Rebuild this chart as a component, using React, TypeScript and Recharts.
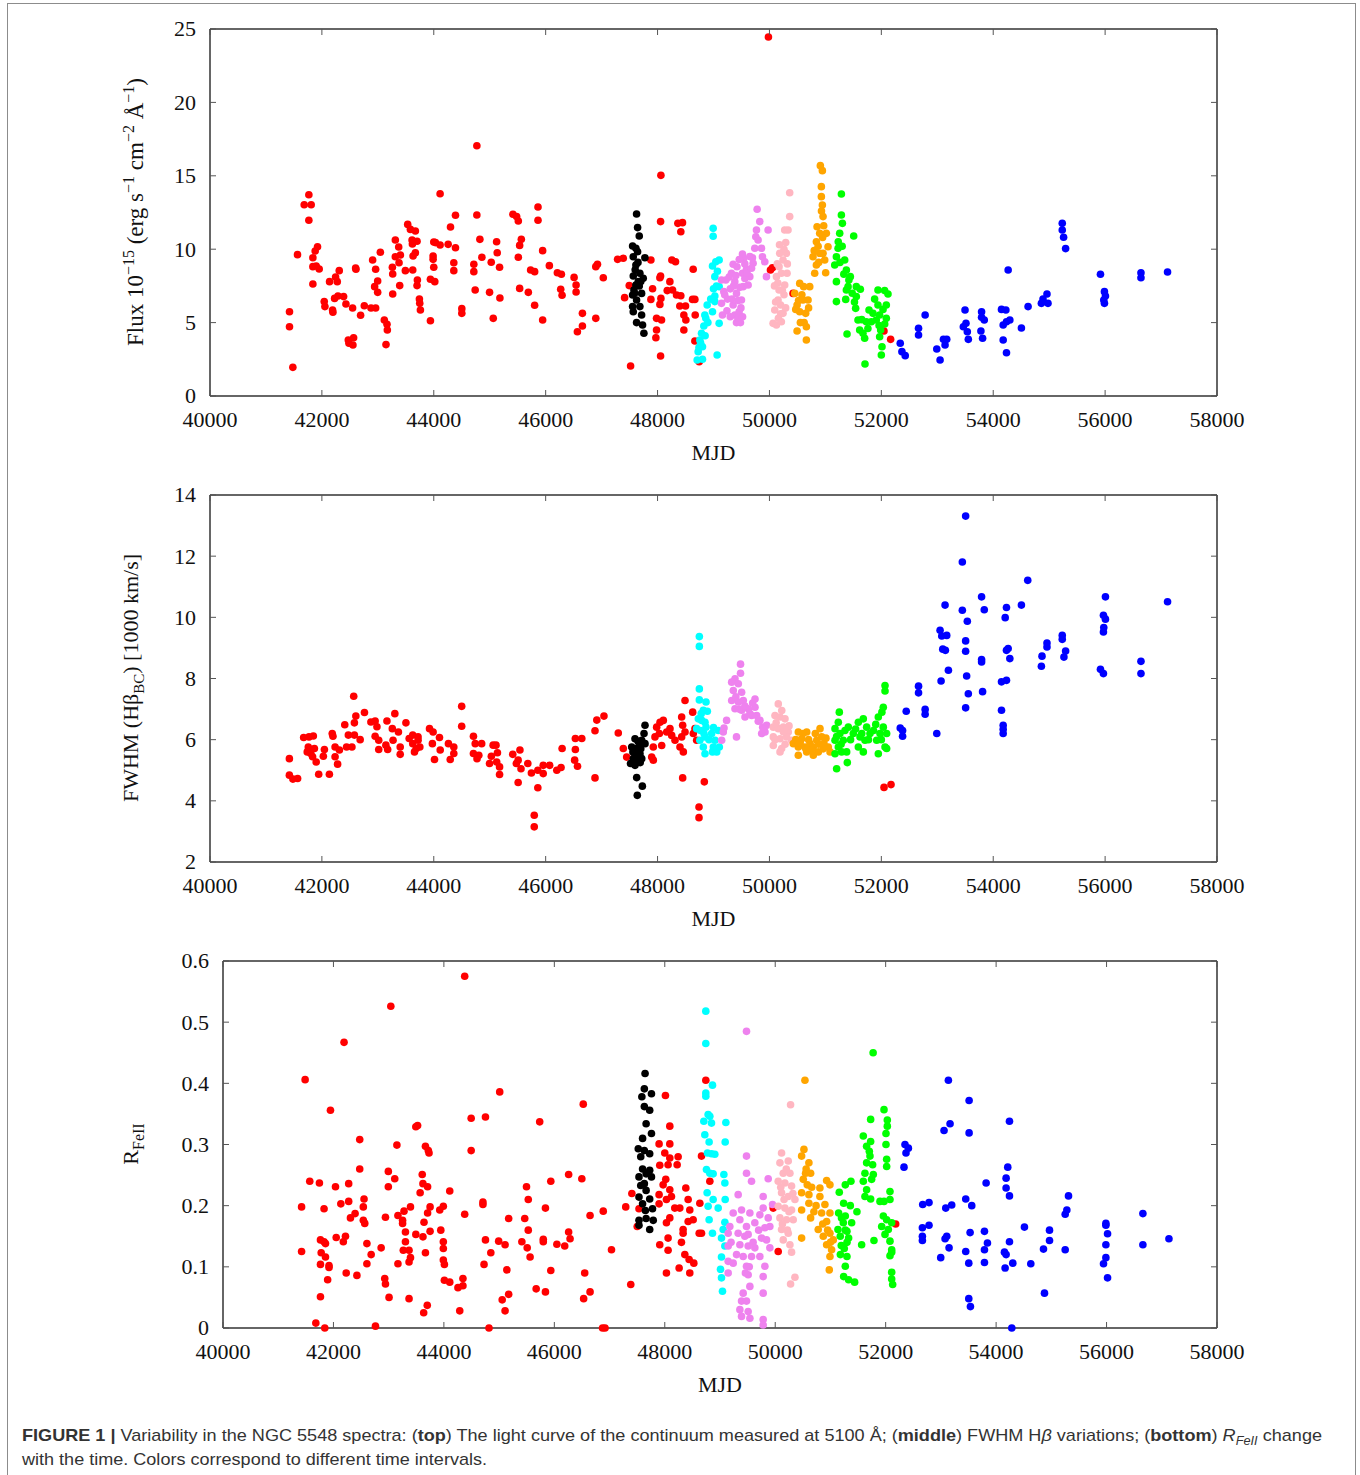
import { ScatterChart, Scatter, XAxis, YAxis, Label, ReferenceLine } from 'recharts'

type Pt = [number, number]

// [MJD, value] pairs
const mjdTicks = [40000, 42000, 44000, 46000, 48000, 50000, 52000, 54000, 56000, 58000]
const fluxTicks = [0, 5, 10, 15, 20, 25]
const fwhmTicks = [2, 4, 6, 8, 10, 12, 14]
const rfeTicks = [0, 0.1, 0.2, 0.3, 0.4, 0.5, 0.6]

// ---------- top: continuum flux ----------
const fluxRed: Pt[] = [
  [41421, 5.74], [41421, 4.72], [41481, 1.95], [41564, 9.63], [41684, 13.03], [41767, 13.71], [41809, 13.03], [41767, 11.97],
  [41839, 9.42], [41880, 9.88], [41922, 10.17], [41839, 8.81], [41899, 8.86], [41952, 8.65], [41839, 7.63], [42042, 6.43],
  [42054, 6.09], [42137, 7.79], [42191, 5.86], [42197, 5.7], [42245, 8.11], [42275, 7.79], [42310, 8.54], [42227, 6.65],
  [42287, 6.81], [42388, 6.77], [42430, 6.27], [42472, 3.81], [42484, 3.59], [42567, 3.97], [42555, 3.47], [42549, 5.99],
  [42603, 8.72], [42609, 8.63], [42692, 5.5], [42758, 6.15], [42878, 5.99], [42961, 5.99], [42907, 9.26], [42961, 8.63],
  [42997, 7.83], [42943, 7.45], [42997, 7.06], [43045, 9.79], [43116, 5.18], [43164, 4.88], [43170, 4.5], [43146, 3.5],
  [43266, 6.95], [43266, 8.31], [43260, 8.77], [43313, 10.63], [43373, 10.15], [43313, 9.49], [43403, 9.6], [43379, 9.08],
  [43391, 7.52], [43492, 8.54], [43534, 11.69], [43582, 11.35], [43671, 11.24], [43612, 10.63], [43618, 10.35], [43701, 10.54],
  [43630, 9.54], [43671, 9.76], [43707, 7.9], [43701, 7.52], [43743, 6.61], [43749, 6.31], [43761, 5.86], [43624, 8.58],
  [43940, 7.95], [43940, 5.13], [44018, 7.79], [43988, 9.54], [43988, 9.31], [44000, 8.77], [44000, 10.49], [44030, 10.45],
  [44113, 13.78], [44113, 10.29], [44257, 10.33], [44299, 11.51], [44388, 12.31], [44388, 10.1], [44358, 9.08], [44358, 8.54],
  [44501, 5.95], [44501, 5.63], [44770, 17.05], [44770, 12.33], [44716, 8.97], [44716, 8.47], [44740, 7.22], [44824, 10.67],
  [44860, 9.45], [45027, 9.11], [44997, 7.06], [45063, 5.29], [45123, 10.51], [45134, 9.76], [45176, 8.77], [45182, 6.68],
  [45415, 12.38], [45481, 12.22], [45511, 11.92], [45565, 10.67], [45535, 10.26], [45511, 9.45], [45535, 7.33], [45690, 7.06],
  [45731, 8.58], [45803, 8.47], [45803, 6.18], [45863, 12.87], [45863, 11.97], [45946, 9.9], [45946, 5.18], [46066, 8.88],
  [46209, 8.4], [46281, 8.29], [46269, 7.27], [46293, 6.86], [46508, 8.08], [46544, 7.56], [46544, 7.08], [46567, 4.38],
  [46657, 5.63], [46657, 4.77], [46896, 8.81], [46926, 8.97], [46896, 5.29], [47030, 8.06], [47286, 9.31], [47387, 9.38],
  [47411, 6.7], [47518, 2.04], [47494, 7.52],
  [48060, 15.03], [48054, 11.88], [47881, 9.26], [48054, 8.17], [48042, 8.06], [47911, 7.31], [47881, 6.58], [48060, 6.65],
  [48042, 6.24], [47982, 5.29], [48071, 5.18], [47982, 4.5], [47970, 3.97], [48054, 2.72], [48173, 7.18], [48220, 7.79],
  [48256, 9.26], [48321, 9.15], [48363, 11.76], [48446, 11.81], [48416, 11.19], [48268, 7.22], [48339, 6.88], [48416, 6.83],
  [48398, 6.13], [48500, 6.13], [48470, 5.52], [48506, 5.18], [48470, 4.5], [48637, 8.63], [48625, 6.58], [48667, 6.58],
  [48673, 5.52], [48667, 3.75], [48744, 2.34], [49982, 24.46], [50018, 8.58], [50053, 8.74], [50422, 6.99], [52047, 4.43],
  [52166, 3.86],
]
const fluxBlack: Pt[] = [
  [47625, 12.4], [47643, 11.47], [47673, 10.9], [47554, 10.22], [47613, 10.06], [47643, 9.83], [47566, 9.49], [47774, 9.42],
  [47613, 8.92], [47684, 8.36], [47566, 8.17], [47744, 8.02], [47655, 7.79], [47578, 7.22], [47715, 6.99], [47625, 6.54],
  [47554, 6.09], [47684, 6.09], [47566, 5.74], [47715, 5.52], [47625, 5.0], [47732, 4.84], [47756, 4.27], [47613, 7.56],
  [47673, 7.49], [47554, 6.88], [47600, 8.6], [47650, 9.1], [47700, 7.8], [47590, 7.0],
]
const fluxCyan: Pt[] = [
  [48708, 2.45], [48803, 2.5], [48726, 3.02], [48803, 3.36], [48756, 3.81], [48786, 4.27], [48827, 4.77], [48863, 5.29],
  [48845, 5.52], [48887, 6.2], [48982, 5.74], [49024, 6.43], [49024, 6.81], [49053, 7.49], [49024, 8.13], [48982, 8.86],
  [49041, 9.15], [49101, 9.26], [48994, 10.88], [48994, 11.42], [49101, 4.95], [49065, 2.79], [49101, 7.45], [48740, 3.3],
  [48770, 3.6], [48850, 4.1], [48900, 5.0], [48950, 6.6], [49000, 7.3], [49070, 8.5],
]
const fluxViolet: Pt[] = [
  [49143, 7.9], [49184, 7.11], [49143, 6.31], [49160, 5.52], [49220, 7.9], [49321, 8.36], [49351, 8.97], [49381, 7.79],
  [49411, 6.99], [49351, 6.2], [49381, 5.52], [49411, 5.0], [49482, 5.0], [49458, 5.74], [49500, 6.54], [49530, 7.45],
  [49518, 8.36], [49542, 9.38], [49518, 9.67], [49589, 8.63], [49649, 8.13], [49619, 7.56], [49708, 9.04], [49738, 10.06],
  [49768, 11.31], [49827, 11.88], [49780, 12.72], [49797, 10.63], [49857, 10.06], [49875, 9.49], [49917, 9.15], [49946, 8.13],
  [49976, 11.31], [49756, 10.85], [49696, 9.42], [49440, 6.5], [49470, 7.4], [49400, 8.2], [49560, 8.0], [49300, 7.3],
  [49250, 6.6], [49200, 6.9], [49280, 8.1], [49330, 6.6], [49360, 7.5], [49420, 8.8], [49460, 9.3], [49490, 6.0],
  [49560, 9.0], [49600, 8.4], [49650, 9.5], [49680, 8.7], [49240, 5.8], [49300, 5.4], [49440, 5.3], [49520, 5.4],
]
const fluxPink: Pt[] = [
  [50065, 4.95], [50125, 4.84], [50095, 5.86], [50154, 6.54], [50172, 7.22], [50125, 8.13], [50172, 8.81], [50184, 9.72],
  [50243, 9.26], [50213, 8.36], [50273, 7.56], [50315, 8.36], [50303, 9.72], [50291, 10.45], [50332, 11.31], [50273, 11.31],
  [50362, 12.22], [50362, 13.85], [50243, 5.63], [50213, 5.06], [50150, 7.7], [50200, 6.2], [50260, 6.9], [50110, 6.4],
  [50140, 9.0], [50180, 10.3], [50230, 7.2], [50260, 10.0], [50290, 6.0], [50320, 9.0], [50200, 5.6], [50090, 7.5],
  [50160, 5.3],
]
const fluxOrange: Pt[] = [
  [50452, 6.99], [50541, 7.67], [50612, 7.45], [50720, 7.45], [50494, 6.2], [50600, 6.54], [50690, 6.54], [50541, 5.74],
  [50648, 5.63], [50553, 5.0], [50660, 4.72], [50494, 4.43], [50660, 3.81], [50779, 9.49], [50839, 8.92], [50809, 8.36],
  [50898, 9.72], [50839, 10.51], [50898, 11.08], [50851, 11.53], [50958, 12.22], [50946, 13.01], [50928, 13.58], [50928, 14.26],
  [50946, 15.35], [50910, 15.69], [51017, 11.08], [51047, 10.17], [50988, 9.26], [51005, 8.4], [50958, 9.72], [50470, 5.9],
  [50520, 6.5], [50580, 6.9], [50620, 5.0], [50700, 6.0], [50800, 9.9], [50870, 10.2], [50930, 12.6], [50970, 11.6],
  [50880, 9.1], [50950, 10.8],
]
const fluxGreen: Pt[] = [
  [51286, 13.76], [51286, 12.33], [51304, 11.76], [51256, 11.08], [51227, 10.06], [51197, 9.49], [51167, 8.92], [51197, 7.79],
  [51345, 9.26], [51375, 8.58], [51446, 8.13], [51506, 10.9], [51375, 7.22], [51197, 6.43], [51363, 6.58], [51405, 7.45],
  [51553, 7.45], [51625, 7.27], [51553, 6.77], [51541, 5.97], [51583, 5.18], [51613, 4.5], [51702, 3.93], [51387, 4.22],
  [51708, 2.18], [51732, 5.06], [51780, 5.86], [51851, 5.63], [51940, 7.22], [52059, 7.18], [52119, 6.95], [51940, 6.2],
  [52089, 6.2], [51970, 5.52], [52089, 5.29], [51988, 4.5], [51970, 4.04], [52012, 3.36], [52000, 2.79], [51910, 5.18],
  [51821, 5.06], [51672, 4.27], [51230, 10.5], [51260, 9.1], [51300, 10.2], [51330, 8.3], [51420, 7.9], [51480, 7.0],
  [51520, 6.4], [51650, 5.2], [51760, 4.6], [51880, 6.6], [51960, 4.8], [52030, 5.9], [52060, 4.9],
]
const fluxBlue: Pt[] = [
  [52338, 3.59], [52368, 3.02], [52427, 2.75], [52665, 4.61], [52665, 4.16], [52783, 5.52], [52991, 3.2], [53050, 2.45],
  [53110, 3.86], [53169, 3.86], [53139, 3.47], [53496, 5.86], [53466, 4.72], [53513, 4.95], [53537, 4.38], [53555, 3.86],
  [53792, 5.74], [53792, 5.36], [53840, 5.18], [53780, 4.43], [53810, 3.93], [54148, 5.9], [54226, 5.86], [54178, 4.84],
  [54237, 5.06], [54297, 5.18], [54178, 3.81], [54237, 2.95], [54267, 8.58], [54504, 4.63], [54623, 6.09], [54861, 6.31],
  [54890, 6.61], [54961, 6.95], [54979, 6.31], [55234, 11.76], [55234, 11.31], [55258, 10.81], [55294, 10.04], [55917, 8.29],
  [55988, 7.11], [56006, 6.81], [55976, 6.54], [55988, 6.31], [56641, 8.4], [56641, 8.06], [57116, 8.45],
]

// ---------- middle: FWHM Hbeta ----------
const fwhmRed: Pt[] = [
  [41419, 5.38], [41419, 4.84], [41482, 4.71], [41566, 4.73], [41674, 6.07], [41770, 6.09], [41847, 6.12], [41757, 5.76],
  [41738, 5.6], [41802, 5.55], [41866, 5.71], [41834, 5.44], [41898, 5.27], [41943, 4.87], [42045, 5.68], [42026, 5.46],
  [42134, 4.87], [42185, 6.2], [42198, 6.11], [42236, 5.76], [42236, 5.44], [42281, 5.2], [42313, 5.66], [42409, 6.49],
  [42473, 6.15], [42441, 5.76], [42537, 5.76], [42569, 7.42], [42581, 6.15], [42607, 6.77], [42581, 6.55], [42684, 6.0],
  [42761, 6.89], [42876, 6.58], [42952, 6.61], [42984, 6.42], [42952, 6.11], [43016, 5.98], [43016, 5.68], [43144, 5.82],
  [43176, 5.68], [43163, 6.61], [43259, 6.36], [43304, 6.85], [43272, 5.98], [43368, 6.25], [43400, 5.76], [43400, 5.52],
  [43502, 6.55], [43560, 6.04], [43624, 6.15], [43624, 5.87], [43655, 5.6], [43719, 6.09], [43751, 5.76], [43687, 5.71],
  [43719, 5.98], [43924, 6.36], [43988, 6.25], [43975, 5.87], [44013, 5.35], [44102, 6.07], [44115, 5.66], [44262, 5.87],
  [44294, 5.35], [44358, 5.76], [44358, 5.55], [44499, 7.09], [44499, 6.44], [44709, 6.11], [44709, 5.55], [44741, 5.87],
  [44773, 5.38], [44805, 5.49], [44856, 5.87], [44997, 5.22], [45029, 5.46], [45061, 5.82], [45112, 5.82], [45138, 5.57],
  [45125, 5.27], [45176, 5.11], [45176, 4.86], [45412, 5.52], [45476, 5.22], [45508, 5.33], [45540, 5.66], [45559, 5.05],
  [45508, 4.6], [45681, 5.22], [45745, 4.91], [45796, 3.53], [45796, 3.15], [45860, 5.0], [45860, 4.43], [45956, 5.16],
  [45956, 4.89], [46071, 5.16], [46199, 5.0], [46275, 5.09], [46294, 5.71], [46518, 5.33], [46531, 6.04], [46531, 5.68],
  [46569, 5.13], [46646, 6.04], [46882, 6.29], [46914, 6.64], [47042, 6.77], [46882, 4.75], [47298, 6.22], [47388, 5.71],
  [47448, 5.43], [47895, 5.43], [47924, 5.76], [47954, 6.09], [47984, 6.41], [48044, 6.57], [48103, 6.63], [48032, 6.2],
  [48074, 5.81], [48163, 6.25], [48222, 6.36], [48253, 6.14], [48312, 5.98], [48401, 5.76], [48431, 6.09], [48449, 6.47],
  [48431, 6.74], [48491, 7.28], [48491, 6.25], [48628, 6.9], [48669, 6.36], [48639, 6.2], [48699, 5.98], [48461, 5.6],
  [47924, 5.33], [48741, 3.8], [48741, 3.45], [48836, 4.62], [48449, 4.75], [52048, 4.44], [52173, 4.53],
]
const fwhmBlack: Pt[] = [
  [47776, 6.47], [47758, 6.2], [47717, 5.98], [47597, 6.03], [47538, 5.76], [47627, 5.71], [47686, 5.54], [47567, 5.38],
  [47656, 5.27], [47517, 5.22], [47597, 5.16], [47717, 5.38], [47627, 4.76], [47728, 4.48], [47638, 4.18], [47776, 5.87],
  [47674, 5.87], [47600, 5.55], [47650, 5.95], [47700, 5.7], [47560, 5.6], [47640, 5.45], [47690, 5.25],
]
const fwhmCyan: Pt[] = [
  [48747, 9.37], [48747, 9.05], [48747, 7.66], [48747, 7.3], [48866, 7.23], [48818, 6.96], [48890, 6.93], [48729, 6.68],
  [48789, 6.63], [48848, 6.57], [48699, 6.36], [48768, 6.3], [48866, 6.41], [48756, 5.98], [48848, 6.09], [48818, 5.76],
  [48848, 5.54], [48967, 6.2], [49027, 5.98], [48997, 5.76], [49086, 6.3], [49057, 5.6], [49104, 5.76], [48982, 5.6],
  [48780, 6.85], [48830, 6.2], [48920, 6.0], [49000, 6.4],
]
const fwhmViolet: Pt[] = [
  [49175, 6.25], [49146, 5.98], [49234, 6.63], [49188, 6.38], [49411, 6.09], [49483, 8.47], [49483, 8.17], [49384, 7.99],
  [49325, 7.88], [49444, 7.83], [49354, 7.61], [49503, 7.55], [49325, 7.28], [49444, 7.23], [49533, 7.28], [49384, 7.01],
  [49503, 6.96], [49563, 6.74], [49622, 7.01], [49742, 7.33], [49742, 7.06], [49772, 6.79], [49831, 6.63], [49879, 6.41],
  [49921, 6.25], [49951, 6.47], [49861, 6.2], [49682, 6.79], [49400, 7.4], [49460, 7.0], [49560, 7.1], [49650, 6.85],
  [49700, 7.2], [49800, 6.6], [49900, 6.35],
]
const fwhmPink: Pt[] = [
  [50158, 7.17], [50099, 6.79], [50189, 6.74], [50278, 6.68], [50069, 6.41], [50158, 6.36], [50248, 6.41], [50337, 6.25],
  [50069, 6.09], [50189, 6.03], [50308, 6.09], [50398, 5.98], [50069, 5.81], [50218, 5.71], [50189, 5.6], [50120, 6.55],
  [50250, 6.25], [50280, 5.85], [50350, 6.45], [50100, 6.0], [50220, 6.95],
]
const fwhmOrange: Pt[] = [
  [50516, 6.25], [50576, 6.03], [50666, 6.25], [50516, 5.76], [50636, 5.76], [50725, 5.87], [50516, 5.49], [50666, 5.6],
  [50784, 5.76], [50904, 6.36], [50934, 6.09], [50845, 5.98], [50975, 5.87], [50874, 5.6], [51052, 5.76], [51083, 5.6],
  [50784, 5.49], [50427, 5.87], [50470, 6.0], [50550, 5.9], [50600, 6.2], [50700, 6.0], [50750, 5.65], [50820, 6.2],
  [50880, 5.85], [50960, 5.7], [51010, 6.05], [50650, 5.7],
]
const fwhmGreen: Pt[] = [
  [51249, 6.9], [51231, 6.57], [51172, 6.36], [51261, 6.2], [51172, 5.98], [51320, 5.98], [51231, 5.76], [51172, 5.54],
  [51290, 5.6], [51380, 5.6], [51201, 5.05], [51392, 5.25], [51410, 6.41], [51499, 6.2], [51589, 6.57], [51678, 6.68],
  [51738, 6.41], [51619, 6.09], [51708, 5.98], [51797, 6.2], [51589, 5.76], [51678, 5.6], [51946, 6.74], [52035, 7.06],
  [52066, 7.77], [52066, 7.59], [52035, 6.41], [51976, 6.2], [52095, 6.2], [51917, 5.98], [52066, 5.76], [51946, 5.54],
  [52095, 5.71], [51200, 6.1], [51280, 5.85], [51350, 6.3], [51450, 6.0], [51540, 6.35], [51650, 6.2], [51770, 6.0],
  [51860, 6.3], [51900, 6.5], [52000, 6.0], [52010, 6.9],
]
const fwhmBlue: Pt[] = [
  [53507, 13.31], [53448, 11.81], [54617, 11.21], [53139, 10.4], [53448, 10.23], [53537, 9.87], [53792, 10.67], [53840, 10.25],
  [54237, 10.32], [54214, 9.99], [54504, 10.4], [53050, 9.58], [53080, 9.39], [53169, 9.41], [53507, 9.23], [53098, 8.96],
  [53145, 8.92], [53507, 8.89], [53199, 8.27], [53068, 7.92], [53525, 8.08], [53555, 7.5], [53507, 7.04], [53792, 8.62],
  [53792, 8.54], [53810, 7.57], [54148, 7.89], [54237, 7.94], [54148, 6.96], [54178, 6.47], [54178, 6.34], [54178, 6.2],
  [54237, 8.92], [54267, 8.98], [54297, 8.65], [54872, 8.73], [54861, 8.4], [54961, 9.16], [54961, 9.03], [55234, 9.41],
  [55234, 9.28], [55294, 8.9], [55264, 8.7], [56006, 10.67], [55970, 10.07], [56006, 9.94], [55976, 9.67], [55970, 9.52],
  [55917, 8.3], [55970, 8.16], [56641, 8.56], [56641, 8.16], [57116, 10.51], [52338, 6.38], [52380, 6.3], [52380, 6.11],
  [52445, 6.93], [52665, 7.75], [52665, 7.53], [52783, 6.99], [52783, 6.83], [52991, 6.2],
]

// ---------- bottom: R_FeII ----------
const rfeRed: Pt[] = [
  [41423, 0.198], [41423, 0.125], [41487, 0.406], [41571, 0.24], [41681, 0.008], [41746, 0.237], [41765, 0.144], [41778, 0.123],
  [41765, 0.104], [41765, 0.051], [41830, 0.195], [41830, 0.141], [41856, 0.138], [41856, 0.116], [41843, 0.0], [41920, 0.102],
  [41920, 0.099], [41895, 0.079], [41946, 0.356], [42037, 0.231], [42050, 0.148], [42134, 0.203], [42192, 0.467], [42179, 0.141],
  [42218, 0.15], [42231, 0.09], [42276, 0.207], [42276, 0.236], [42308, 0.18], [42392, 0.187], [42425, 0.086], [42476, 0.308],
  [42476, 0.26], [42554, 0.211], [42541, 0.198], [42541, 0.176], [42567, 0.171], [42606, 0.138], [42606, 0.105], [42683, 0.12],
  [42761, 0.003], [42864, 0.131], [42929, 0.081], [42942, 0.072], [42942, 0.181], [42994, 0.256], [42994, 0.231], [43039, 0.526],
  [43007, 0.05], [43110, 0.244], [43149, 0.299], [43168, 0.184], [43168, 0.105], [43252, 0.176], [43252, 0.171], [43278, 0.191],
  [43304, 0.157], [43304, 0.141], [43265, 0.127], [43369, 0.127], [43369, 0.108], [43395, 0.115], [43369, 0.048], [43395, 0.198],
  [43492, 0.329], [43524, 0.331], [43492, 0.153], [43570, 0.221], [43608, 0.251], [43621, 0.236], [43634, 0.025], [43621, 0.149],
  [43640, 0.173], [43666, 0.297], [43705, 0.231], [43718, 0.29], [43731, 0.286], [43666, 0.123], [43705, 0.188], [43750, 0.198],
  [43750, 0.158], [43699, 0.037], [43925, 0.193], [43944, 0.16], [43990, 0.199], [43990, 0.141], [43990, 0.13], [43990, 0.111],
  [44009, 0.104], [44009, 0.078], [44106, 0.075], [44106, 0.224], [44255, 0.066], [44287, 0.028], [44345, 0.081], [44345, 0.069],
  [44377, 0.575], [44377, 0.186], [44494, 0.343], [44494, 0.29], [44707, 0.206], [44707, 0.202], [44727, 0.104], [44753, 0.345],
  [44753, 0.144], [44817, 0.0], [44850, 0.123], [44992, 0.142], [45011, 0.386], [45056, 0.046], [45108, 0.136], [45108, 0.028],
  [45140, 0.095], [45173, 0.179], [45173, 0.055], [45412, 0.141], [45464, 0.179], [45496, 0.231], [45509, 0.131], [45528, 0.21],
  [45528, 0.16], [45561, 0.116], [45671, 0.064], [45735, 0.337], [45800, 0.145], [45800, 0.141], [45839, 0.196], [45839, 0.059],
  [45936, 0.24], [45936, 0.094], [46046, 0.137], [46188, 0.134], [46259, 0.251], [46259, 0.157], [46285, 0.146], [46498, 0.244],
  [46524, 0.366], [46531, 0.048], [46550, 0.09], [46647, 0.184], [46647, 0.059], [46873, 0.0], [46918, 0.0], [46886, 0.191],
  [47035, 0.128], [47293, 0.198], [47384, 0.071], [47404, 0.22], [47501, 0.166], [47533, 0.195],
  [48012, 0.38], [48091, 0.33], [47897, 0.301], [48091, 0.301], [48000, 0.286], [48091, 0.278], [48242, 0.28], [48224, 0.267],
  [48060, 0.267], [47909, 0.266], [48018, 0.243], [47970, 0.234], [48091, 0.226], [48121, 0.215], [47897, 0.218], [48030, 0.21],
  [48181, 0.196], [48272, 0.196], [48091, 0.18], [48030, 0.172], [47897, 0.203], [48381, 0.229], [48423, 0.21], [48453, 0.193],
  [48423, 0.174], [48332, 0.161], [48332, 0.155], [48514, 0.177], [48635, 0.204], [48665, 0.155], [48623, 0.155], [48060, 0.147],
  [47909, 0.136], [48060, 0.127], [48302, 0.14], [48363, 0.12], [48441, 0.112], [48526, 0.106], [48260, 0.098], [48030, 0.09],
  [48453, 0.09], [48743, 0.405], [48665, 0.281], [48816, 0.24], [49964, 0.196], [50054, 0.125], [52181, 0.17],
]
const rfeBlack: Pt[] = [
  [47643, 0.416], [47630, 0.391], [47585, 0.378], [47759, 0.383], [47630, 0.362], [47727, 0.356], [47662, 0.334], [47759, 0.318],
  [47598, 0.31], [47520, 0.293], [47630, 0.29], [47727, 0.285], [47565, 0.28], [47598, 0.26], [47727, 0.258], [47533, 0.247],
  [47662, 0.252], [47759, 0.247], [47565, 0.233], [47662, 0.225], [47533, 0.214], [47727, 0.211], [47598, 0.203], [47649, 0.192],
  [47778, 0.195], [47533, 0.176], [47662, 0.179], [47791, 0.176], [47533, 0.168], [47727, 0.161], [47630, 0.236],
]
const rfeCyan: Pt[] = [
  [48743, 0.518], [48743, 0.465], [48743, 0.384], [48864, 0.397], [48743, 0.379], [48785, 0.349], [48816, 0.346], [48707, 0.338],
  [48846, 0.335], [49106, 0.336], [48725, 0.316], [48803, 0.304], [49094, 0.304], [48773, 0.286], [48846, 0.285], [48906, 0.284],
  [48755, 0.259], [48816, 0.253], [48876, 0.252], [49070, 0.251], [49088, 0.237], [48767, 0.221], [48876, 0.21], [48785, 0.199],
  [48967, 0.196], [49094, 0.21], [48803, 0.177], [49088, 0.173], [48864, 0.155], [49057, 0.161], [49027, 0.147], [49088, 0.134],
  [49027, 0.116], [49009, 0.096], [49027, 0.082], [49045, 0.06],
]
const rfeViolet: Pt[] = [
  [49480, 0.485], [49480, 0.281], [49480, 0.253], [49571, 0.24], [49873, 0.244], [49329, 0.218], [49782, 0.215], [49951, 0.202],
  [49782, 0.196], [49390, 0.193], [49239, 0.188], [49541, 0.188], [49722, 0.185], [49873, 0.18], [49360, 0.177], [49178, 0.166],
  [49480, 0.166], [49631, 0.172], [49813, 0.164], [49903, 0.166], [49148, 0.155], [49329, 0.155], [49510, 0.153], [49752, 0.147],
  [49843, 0.144], [49148, 0.134], [49360, 0.136], [49510, 0.134], [49631, 0.131], [49903, 0.131], [49148, 0.109], [49420, 0.117],
  [49571, 0.117], [49722, 0.117], [49239, 0.106], [49480, 0.101], [49813, 0.101], [49148, 0.09], [49510, 0.087], [49782, 0.084],
  [49541, 0.068], [49782, 0.057], [49420, 0.057], [49390, 0.044], [49480, 0.044], [49360, 0.03], [49510, 0.027], [49390, 0.019],
  [49541, 0.016], [49782, 0.014], [49782, 0.005], [49200, 0.14], [49300, 0.12], [49450, 0.15], [49600, 0.14], [49700, 0.16],
  [49460, 0.09], [49530, 0.1],
]
const rfePink: Pt[] = [
  [50278, 0.365], [50115, 0.286], [50236, 0.273], [50085, 0.27], [50145, 0.253], [50266, 0.253], [50054, 0.24], [50175, 0.237],
  [50296, 0.232], [50115, 0.221], [50236, 0.215], [50357, 0.21], [50054, 0.199], [50175, 0.196], [50296, 0.193], [50085, 0.18],
  [50205, 0.177], [50326, 0.177], [50115, 0.161], [50236, 0.155], [50145, 0.144], [50266, 0.136], [50296, 0.124], [50357, 0.083],
  [50278, 0.072], [50100, 0.23], [50160, 0.21], [50200, 0.26], [50250, 0.19], [50320, 0.22], [50130, 0.17], [50220, 0.16],
]
const rfeOrange: Pt[] = [
  [50538, 0.405], [50520, 0.292], [50478, 0.281], [50610, 0.27], [50550, 0.253], [50641, 0.253], [50508, 0.243], [50931, 0.241],
  [50580, 0.234], [50991, 0.234], [50809, 0.229], [50478, 0.221], [50610, 0.218], [50809, 0.215], [50478, 0.193], [50610, 0.204],
  [50900, 0.202], [50840, 0.188], [50991, 0.188], [50931, 0.174], [50779, 0.161], [50991, 0.155], [50870, 0.15], [51051, 0.144],
  [50931, 0.136], [51021, 0.128], [50991, 0.117], [50979, 0.095], [50478, 0.147], [50641, 0.18], [50560, 0.26], [50660, 0.23],
  [50740, 0.2], [50860, 0.17], [50950, 0.16], [51000, 0.14], [50700, 0.19],
]
const rfeGreen: Pt[] = [
  [51773, 0.45], [51970, 0.357], [51728, 0.341], [52030, 0.34], [52030, 0.33], [51595, 0.314], [52006, 0.318], [51728, 0.305],
  [52006, 0.3], [51655, 0.297], [51704, 0.289], [51716, 0.281], [51655, 0.27], [51764, 0.267], [52018, 0.276], [52018, 0.264],
  [51625, 0.253], [51776, 0.251], [51595, 0.24], [51746, 0.243], [51371, 0.24], [51269, 0.234], [51160, 0.222], [51655, 0.226],
  [51625, 0.215], [51728, 0.211], [51897, 0.207], [51970, 0.207], [52078, 0.223], [52078, 0.21], [51239, 0.204], [51360, 0.2],
  [51480, 0.19], [51148, 0.188], [51269, 0.183], [51958, 0.183], [52018, 0.177], [51233, 0.172], [51384, 0.172], [52109, 0.172],
  [51928, 0.166], [51136, 0.161], [51299, 0.158], [52048, 0.161], [51988, 0.153], [52078, 0.142], [51178, 0.15], [51329, 0.147],
  [51565, 0.136], [51788, 0.143], [51196, 0.135], [51299, 0.117], [51269, 0.101], [52109, 0.128], [52109, 0.124], [52078, 0.118],
  [51239, 0.084], [51329, 0.079], [51438, 0.075], [52109, 0.091], [52109, 0.08], [52127, 0.071], [51200, 0.18], [51270, 0.16],
  [51300, 0.14], [51180, 0.12], [51250, 0.13],
]
const rfeBlue: Pt[] = [
  [52350, 0.3], [52411, 0.294], [52368, 0.286], [52332, 0.263], [53136, 0.405], [53511, 0.372], [54242, 0.338], [53166, 0.334],
  [53057, 0.323], [53511, 0.319], [54211, 0.263], [53819, 0.237], [54181, 0.245], [54181, 0.229], [54242, 0.216], [55311, 0.216],
  [53450, 0.211], [52671, 0.202], [52785, 0.205], [53196, 0.201], [53088, 0.196], [53559, 0.2], [55281, 0.193], [55251, 0.186],
  [56658, 0.187], [52665, 0.164], [52785, 0.168], [54513, 0.165], [55988, 0.171], [55988, 0.168], [54967, 0.16], [53789, 0.158],
  [53529, 0.156], [52665, 0.15], [52665, 0.143], [56018, 0.154], [53076, 0.146], [53106, 0.15], [53843, 0.139], [54242, 0.141],
  [54967, 0.143], [57130, 0.146], [53148, 0.131], [53789, 0.128], [54858, 0.129], [55251, 0.128], [55988, 0.136], [56658, 0.136],
  [53450, 0.125], [54151, 0.124], [54181, 0.12], [52997, 0.115], [55988, 0.115], [55945, 0.105], [53505, 0.106], [53789, 0.107],
  [54302, 0.106], [54628, 0.105], [54163, 0.098], [56018, 0.082], [54876, 0.057], [53505, 0.048], [53535, 0.035], [54284, 0.0],
]

const RED = '#ff0000'
const BLACK = '#000000'
const CYAN = '#00ffff'
const VIOLET = '#ee82ee'
const PINK = '#ffb6c1'
const ORANGE = '#ffa500'
const GREEN = '#00ff00'
const BLUE = '#0000ff'

const SERIF = "'Liberation Serif', 'Times New Roman', serif"
const SANS = "'Liberation Sans', Arial, sans-serif"

// panel box in chart-local pixels (same for all three panels)
const BOX_TOP = 29
const BOX_BOTTOM = 396
const BOX_RIGHT = 1217

interface Series {
  color: string
  pts: Pt[]
}

const toXY = (pts: Pt[]) => pts.map(([x, y]) => ({ x, y }))

function dot(color: string) {
  return (p: any) => <circle cx={p.cx} cy={p.cy} r={3.8} fill={color} />
}

// gnuplot-like ticks: inward on both sides of the box
function XTick(p: any) {
  return (
    <g>
      <line x1={p.x} x2={p.x} y1={BOX_BOTTOM} y2={BOX_BOTTOM - 6} stroke="#555" />
      <line x1={p.x} x2={p.x} y1={BOX_TOP} y2={BOX_TOP + 6} stroke="#555" />
      <text x={p.x} y={BOX_BOTTOM + 31} textAnchor="middle" fontFamily={SERIF} fontSize={22} fill="#111">
        {p.payload.value}
      </text>
    </g>
  )
}

function makeYTick(left: number) {
  return (p: any) => (
    <g>
      <line x1={left} x2={left + 6} y1={p.y} y2={p.y} stroke="#555" />
      <line x1={BOX_RIGHT} x2={BOX_RIGHT - 6} y1={p.y} y2={p.y} stroke="#555" />
      <text x={left - 14} y={p.y} dy="0.34em" textAnchor="end" fontFamily={SERIF} fontSize={22} fill="#111">
        {p.payload.value}
      </text>
    </g>
  )
}

interface PanelProps {
  top: number
  plotLeft: number
  domain: [number, number]
  ticks: number[]
  series: Series[]
  yLabel: () => JSX.Element
}

const axisLine = { stroke: '#333', strokeWidth: 1.5 }

function Panel({ top, plotLeft, domain, ticks, series, yLabel }: PanelProps) {
  const cx = (plotLeft + BOX_RIGHT) / 2
  return (
    <div style={{ position: 'absolute', left: 0, top }}>
      <ScatterChart width={1360} height={466} margin={{ top: BOX_TOP, right: 1360 - BOX_RIGHT, bottom: 30, left: plotLeft - 60 }}>
        <XAxis
          xAxisId="b" type="number" dataKey="x" domain={[40000, 58000]} ticks={mjdTicks} interval={0}
          height={40} tickLine={false} tick={XTick} axisLine={axisLine}
        >
          <Label
            content={() => (
              <text x={cx} y={460} textAnchor="middle" fontFamily={SERIF} fontSize={22} fill="#111">MJD</text>
            )}
          />
        </XAxis>
        <YAxis
          yAxisId="l" type="number" dataKey="y" domain={domain} ticks={ticks} interval={0}
          width={60} tickLine={false} tick={makeYTick(plotLeft)} axisLine={axisLine}
        >
          <Label content={yLabel} />
        </YAxis>
        <ReferenceLine xAxisId="b" yAxisId="l" y={domain[1]} stroke="#333" strokeWidth={1.5} />
        <ReferenceLine xAxisId="b" yAxisId="l" x={58000} stroke="#333" strokeWidth={1.5} />
        {series.map((s, i) => (
          <Scatter
            key={i}
            xAxisId="b"
            yAxisId="l"
            data={toXY(s.pts)}
            fill={s.color}
            shape={dot(s.color)}
            isAnimationActive={false}
          />
        ))}
      </ScatterChart>
    </div>
  )
}

const fluxLabel = () => (
  <text x={143} y={212} transform="rotate(-90 143 212)" textAnchor="middle" fontFamily={SERIF} fontSize={23} fill="#111">
    Flux 10<tspan dy={-9} fontSize={16}>−15</tspan>
    <tspan dy={9}> (erg s</tspan><tspan dy={-9} fontSize={16}>−1</tspan>
    <tspan dy={9}> cm</tspan><tspan dy={-9} fontSize={16}>−2</tspan>
    <tspan dy={9}> Å</tspan><tspan dy={-9} fontSize={16}>−1</tspan>
    <tspan dy={9}>)</tspan>
  </text>
)

const fwhmLabel = () => (
  <text x={138} y={212} transform="rotate(-90 138 212)" textAnchor="middle" fontFamily={SERIF} fontSize={22} fill="#111">
    FWHM (Hβ<tspan dy={6} fontSize={15}>BC</tspan><tspan dy={-6}>) [1000 km/s]</tspan>
  </text>
)

const rfeLabel = () => (
  <text x={138} y={212} transform="rotate(-90 138 212)" textAnchor="middle" fontFamily={SERIF} fontSize={22} fill="#111">
    R<tspan dy={6} fontSize={16}>FeII</tspan>
  </text>
)

export default function App() {
  return (
    <div style={{ position: 'absolute', left: 0, top: 0, width: 1360, height: 1475, overflow: 'hidden', background: '#fff' }}>
      <div
        style={{
          position: 'absolute', left: 7, top: 3, width: 1349, height: 1500,
          border: '1.5px solid #8c8c8c', boxSizing: 'border-box',
        }}
      />
      <Panel
        top={0} plotLeft={210} domain={[0, 25]} ticks={fluxTicks} yLabel={fluxLabel}
        series={[
          { color: RED, pts: fluxRed }, { color: BLACK, pts: fluxBlack }, { color: CYAN, pts: fluxCyan },
          { color: VIOLET, pts: fluxViolet }, { color: PINK, pts: fluxPink }, { color: ORANGE, pts: fluxOrange },
          { color: GREEN, pts: fluxGreen }, { color: BLUE, pts: fluxBlue },
        ]}
      />
      <Panel
        top={466} plotLeft={210} domain={[2, 14]} ticks={fwhmTicks} yLabel={fwhmLabel}
        series={[
          { color: RED, pts: fwhmRed }, { color: BLACK, pts: fwhmBlack }, { color: CYAN, pts: fwhmCyan },
          { color: VIOLET, pts: fwhmViolet }, { color: PINK, pts: fwhmPink }, { color: ORANGE, pts: fwhmOrange },
          { color: GREEN, pts: fwhmGreen }, { color: BLUE, pts: fwhmBlue },
        ]}
      />
      <Panel
        top={932} plotLeft={223} domain={[0, 0.6]} ticks={rfeTicks} yLabel={rfeLabel}
        series={[
          { color: RED, pts: rfeRed }, { color: BLACK, pts: rfeBlack }, { color: CYAN, pts: rfeCyan },
          { color: VIOLET, pts: rfeViolet }, { color: PINK, pts: rfePink }, { color: ORANGE, pts: rfeOrange },
          { color: GREEN, pts: rfeGreen }, { color: BLUE, pts: rfeBlue },
        ]}
      />
      <svg width={1360} height={75} style={{ position: 'absolute', left: 0, top: 1400 }}>
        <text x={22} y={41} textLength={1300} lengthAdjust="spacingAndGlyphs" fontFamily={SANS} fontSize={17} fill="#333">
          <tspan fontWeight={700}>FIGURE 1 | </tspan>Variability in the NGC 5548 spectra: (<tspan fontWeight={700}>top</tspan>) The
          light curve of the continuum measured at 5100 Å; (<tspan fontWeight={700}>middle</tspan>) FWHM H
          <tspan fontStyle="italic">β</tspan> variations; (<tspan fontWeight={700}>bottom</tspan>){' '}
          <tspan fontStyle="italic">R</tspan><tspan fontStyle="italic" fontSize={12} dy={4}>FeII</tspan>
          <tspan dy={-4}> change</tspan>
        </text>
        <text x={22} y={65} textLength={465} lengthAdjust="spacingAndGlyphs" fontFamily={SANS} fontSize={17} fill="#333">
          with the time. Colors correspond to different time intervals.
        </text>
      </svg>
    </div>
  )
}
